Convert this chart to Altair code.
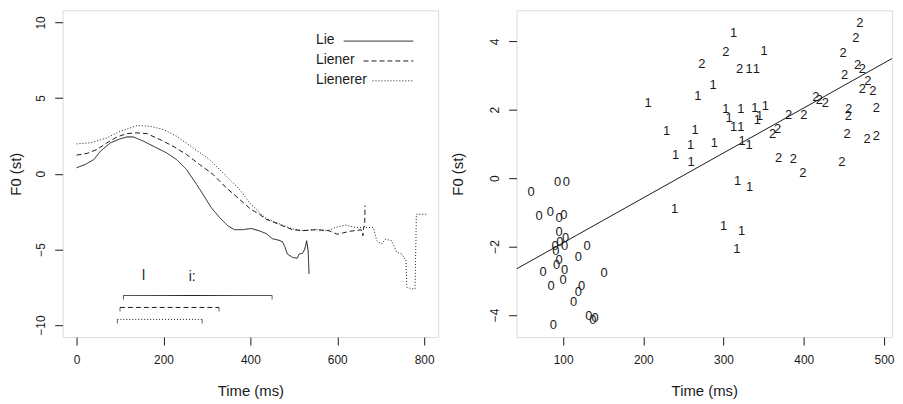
import altair as alt
import pandas as pd

FONT = "Liberation Sans"
INK = "#1a1a1a"

# ---------------- left panel: F0 contours ----------------
series = ["Lie", "Liener", "Lienerer"]

lie_t = [0, 20, 40, 55, 78, 100, 116, 131, 154, 184, 207, 230, 253, 276, 291, 310,
         329, 348, 363, 382, 402, 420, 436, 451, 466, 474, 479, 485, 497, 508, 512,
         520, 525, 529.5, 533, 535]
lie_f0 = [0.39, 0.61, 0.94, 1.49, 2.04, 2.3, 2.43, 2.43, 2.15, 1.71, 1.38, 0.94, 0.28,
          -0.7, -1.36, -2.24, -2.89, -3.44, -3.7, -3.7, -3.62, -3.77, -3.95, -4.3,
          -4.4, -4.5, -4.8, -5.3, -5.53, -5.59, -5.31, -5.26, -5.0, -4.43, -5.1, -6.62]

liener_t = [0, 24, 47, 70, 93, 116, 139, 162, 192, 222, 253, 283, 314, 344, 375, 401,
            421, 436, 474, 497, 520, 550, 581, 600, 615, 630, 645, 655, 659, 661, 663, 664]
liener_f0 = [1.23, 1.34, 1.6, 2.04, 2.43, 2.65, 2.7, 2.65, 2.26, 1.82, 1.27, 0.61, -0.04,
             -0.92, -1.69, -2.35, -2.68, -3.0, -3.44, -3.7, -3.77, -3.7, -3.77, -4.0,
             -3.9, -3.8, -3.75, -3.7, -4.1, -3.5, -3.5, -2.1]

lienerer_t = [0, 32, 70, 101, 139, 169, 200, 230, 268, 306, 344, 375, 401, 421, 436, 474,
              497, 520, 550, 581, 596, 619, 642, 661, 683, 691, 702, 710, 725, 737, 748,
              756, 758, 760, 771, 779, 782, 805]
lienerer_f0 = [1.97, 2.04, 2.37, 2.81, 3.18, 3.14, 2.92, 2.48, 1.71, 0.94, -0.15, -1.03,
               -2.02, -2.57, -2.95, -3.4, -3.65, -3.75, -3.7, -3.75, -3.55, -3.4, -3.55,
               -3.55, -3.55, -4.43, -4.65, -4.32, -4.43, -5.2, -5.31, -5.64, -5.64,
               -7.5, -7.61, -7.61, -2.68, -2.68]

# segment durations drawn under the contours
seg_start = [108, 100, 94]
seg_end = [450, 328, 289]
seg_level = [-8.05, -8.84, -9.63]

# segment labels
seg_labels = ["l", "i:"]
seg_label_t = [154, 266]
seg_label_f0 = [-6.76, -6.8]

# ---------------- right panel: scatter ----------------
t0 = [60, 93, 104, 70, 84, 95, 101, 95, 103, 96, 90, 91, 102, 130, 95, 92, 119, 75,
      102, 100, 151, 85, 123, 119, 113, 132, 140, 137, 88]
f0_0 = [-0.41, -0.1, -0.1, -1.11, -0.99, -1.18, -1.08, -1.58, -1.74, -1.88, -2.0,
        -2.12, -1.98, -1.98, -2.4, -2.53, -2.32, -2.76, -2.68, -2.97, -2.79, -3.15,
        -3.15, -3.34, -3.61, -4.02, -4.1, -4.16, -4.29]

t1 = [312.5, 350.5, 332, 341, 287, 268, 206, 303, 321.5, 339, 352, 307, 342, 345,
      312.5, 321.5, 229, 264.6, 259, 288.6, 240.3, 259.7, 323, 332, 317.5, 332.5,
      239, 300, 322.4, 316.6]
f0_1 = [4.26, 3.73, 3.2, 3.2, 2.72, 2.4, 2.21, 2.02, 2.03, 2.04, 2.1, 1.75, 1.7, 1.83,
        1.5, 1.5, 1.37, 1.42, 0.98, 1.03, 0.69, 0.47, 1.08, 0.97, -0.09, -0.26,
        -0.91, -1.41, -1.55, -2.07]

t2 = [303, 273, 320, 470, 465, 449, 467, 473, 451, 480, 473, 486, 490.5, 456, 455.5,
      454, 479, 490.5, 447.5, 415, 419.5, 427, 381, 400, 361, 367.5, 368.5, 387, 399]
f0_2 = [3.68, 3.34, 3.2, 4.55, 4.1, 3.66, 3.32, 3.2, 3.03, 2.83, 2.62, 2.55, 2.05,
        2.03, 1.82, 1.3, 1.13, 1.24, 0.47, 2.37, 2.3, 2.21, 1.85, 1.85, 1.28, 1.43,
        0.59, 0.57, 0.15]
groups = ["0", "1", "2"]

# ---------------- tables ----------------
contours = pd.concat([
    pd.DataFrame({"series": series[0], "time": lie_t, "f0": lie_f0}),
    pd.DataFrame({"series": series[1], "time": liener_t, "f0": liener_f0}),
    pd.DataFrame({"series": series[2], "time": lienerer_t, "f0": lienerer_f0}),
], ignore_index=True)
contours["order"] = range(len(contours))

segs = pd.DataFrame({"series": series, "start": seg_start, "end": seg_end, "f0": seg_level})
caps = pd.concat([
    segs[["series", "f0"]].assign(time=segs["start"]),
    segs[["series", "f0"]].assign(time=segs["end"]),
], ignore_index=True)
seglab = pd.DataFrame({"label": seg_labels, "time": seg_label_t, "f0": seg_label_f0})

scatter = pd.concat([
    pd.DataFrame({"group": groups[0], "time": t0, "f0": f0_0}),
    pd.DataFrame({"group": groups[1], "time": t1, "f0": f0_1}),
    pd.DataFrame({"group": groups[2], "time": t2, "f0": f0_2}),
], ignore_index=True)

# ---------------- styling ----------------
W, H = 378, 329
dash_scale = alt.Scale(domain=series, range=[[1, 0], [5, 3], [1, 2]])

def ax(values, orient, title, title_pad):
    common = dict(values=values, title=title, domain=False, grid=False, tickSize=8,
                  tickColor=INK, labelFont=FONT, labelFontSize=12, labelColor=INK,
                  titleFont=FONT, titleFontSize=15, titleFontWeight="normal",
                  titleColor=INK, titlePadding=title_pad)
    if orient == "left":
        return alt.Axis(labelAngle=-90, labelAlign="center", labelBaseline="bottom",
                        labelPadding=7, minExtent=27, maxExtent=27, **common)
    return alt.Axis(labelPadding=10, minExtent=30, maxExtent=30, **common)

# left panel
lx = alt.X("time:Q", scale=alt.Scale(domain=[-32, 832], nice=False, zero=False),
           axis=ax([0, 200, 400, 600, 800], "bottom", "Time (ms)", 17))
ly = alt.Y("f0:Q", scale=alt.Scale(domain=[-10.8, 10.8], nice=False, zero=False),
           axis=ax([-10, -5, 0, 5, 10], "left", "F0 (st)", 12))

lines = alt.Chart(contours).mark_line(color=INK, strokeWidth=1).encode(
    x=lx, y=ly, detail="series:N", order="order:Q",
    strokeDash=alt.StrokeDash("series:N", scale=dash_scale, legend=None))

seg_rules = alt.Chart(segs).mark_rule(color=INK, strokeWidth=1).encode(
    x="start:Q", x2="end:Q", y="f0:Q",
    strokeDash=alt.StrokeDash("series:N", scale=dash_scale, legend=None))

seg_caps = alt.Chart(caps).mark_tick(color=INK, thickness=1, size=4, orient="vertical",
                                     yOffset=2).encode(x="time:Q", y="f0:Q")

seg_text = alt.Chart(seglab).mark_text(font=FONT, fontSize=14, color=INK).encode(
    x="time:Q", y="f0:Q", text="label:N")

one = pd.DataFrame({"k": [0]})
legend_layers = []
leg_y = [30, 50, 70]
leg_x1 = [283, 303, 312]
leg_dash = [[1, 0], [5, 3], [1, 2]]
for i, name in enumerate(series):
    legend_layers.append(
        alt.Chart(one).mark_text(font=FONT, fontSize=14, color=INK, align="left",
                                 baseline="middle").encode(
            x=alt.value(255), y=alt.value(leg_y[i]), text=alt.value(name)))
    legend_layers.append(
        alt.Chart(one).mark_rule(color=INK, strokeWidth=1, strokeDash=leg_dash[i]).encode(
            x=alt.value(leg_x1[i]), x2=alt.value(353), y=alt.value(leg_y[i] + 1)))

left = alt.layer(lines, seg_rules, seg_caps, seg_text, *legend_layers).properties(
    width=W, height=H)

# right panel
rx = alt.X("time:Q", scale=alt.Scale(domain=[42, 510], nice=False, zero=False),
           axis=ax([100, 200, 300, 400, 500], "bottom", "Time (ms)", 17))
ry = alt.Y("f0:Q", scale=alt.Scale(domain=[-4.65, 4.91], nice=False, zero=False),
           axis=ax([-4, -2, 0, 2, 4], "left", "F0 (st)", 24))

pts = alt.Chart(scatter).mark_text(font=FONT, fontSize=13, color=INK).encode(
    x=rx, y=ry, text="group:N")

fit = alt.Chart(scatter).transform_regression("time", "f0", extent=[42, 510]).mark_line(
    color=INK, strokeWidth=1, clip=True).encode(x="time:Q", y="f0:Q")

right = alt.layer(pts, fit).properties(width=W, height=H)

chart = alt.hconcat(left, right, spacing=11).properties(
    padding={"left": 0, "top": 0, "right": 0, "bottom": 0}
).configure_view(stroke="#000", strokeWidth=1).configure(background="white")

chart.save("out.html", embed_options={"renderer": "svg", "actions": False})
